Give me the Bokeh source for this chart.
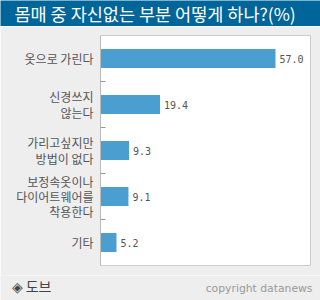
from bokeh.plotting import figure
from bokeh.layouts import column
from bokeh.models import FixedTicker, ColumnDataSource, LabelSet, Plot
from bokeh.core.properties import value
from bokeh.embed import file_html
from bokeh.resources import INLINE

categories = ["옷으로 가린다", "신경쓰지\n않는다", "가리고싶지만\n방법이 없다",
              "보정속옷이나\n다이어트웨어를\n착용한다", "기타"]
values = [57.0, 19.4, 9.3, 9.1, 5.2]
value_labels = ["57.0", "19.4", "9.3", "9.1", "5.2"]
title_text = ["몸매 중 자신없는 부분 어떻게 하나?(%)"]
source_text = ["◈ 도브"]
credit_text = ["copyright datanews"]

W = 320
BG = "#eeeeee"
HAS_FA = "frame_align" in Plot.properties()

# header
h = figure(width=W, height=26, output_backend="svg", toolbar_location=None,
           x_range=(0, W), y_range=(0, 26), x_axis_type=None, y_axis_type=None,
           min_border=0)
h.background_fill_color = "#006699"
h.border_fill_color = "#006699"
h.outline_line_color = None
h.grid.visible = False
h.text(x=[14], y=[13], text=title_text, text_font=value("Noto Sans CJK KR"),
       text_font_size="17.5px", text_color="white", text_baseline="middle")

# main chart
n = len(categories)
ys = [n - i - 0.5 for i in range(n)]
bounds = [float(k) for k in range(1, n)]
src = ColumnDataSource(dict(y=ys, v=values, lab=value_labels))

p = figure(width=W, height=249, output_backend="svg", toolbar_location=None,
           x_range=(0, 68.4), y_range=(0, n),
           min_border_left=100, min_border_right=10, min_border_top=9, min_border_bottom=10)
p.background_fill_color = "white"
p.border_fill_color = BG
p.outline_line_color = "#cccccc"
p.grid.visible = False
p.xaxis.visible = False

p.hbar(y="y", right="v", left=0, height=0.41, source=src, color="#4a9fd0", line_color=None)
p.add_layout(LabelSet(x="v", y="y", text="lab", source=src, x_offset=4,
                      text_baseline="middle", text_font=value("DejaVu Sans Mono"),
                      text_font_size="10px", text_color="#555555"))

ya = p.yaxis[0]
ya.ticker = FixedTicker(ticks=ys, minor_ticks=bounds)
ya.major_label_overrides = {y: c for y, c in zip(ys, categories)}
ya.major_tick_line_color = None
ya.major_tick_in = 0
ya.major_tick_out = 0
ya.minor_tick_in = 5
ya.minor_tick_out = 0
ya.minor_tick_line_color = "#999999"
ya.axis_line_color = "#bbbbbb"
ya.major_label_text_font = "Noto Sans CJK KR"
ya.major_label_text_font_size = "12px"
ya.major_label_text_color = "#555555"
ya.major_label_text_line_height = 0.9
ya.major_label_standoff = 7

# footer
f = figure(width=W, height=25, output_backend="svg", toolbar_location=None,
           x_range=(0, W), y_range=(25, 0), x_axis_type=None, y_axis_type=None,
           min_border=0)
f.background_fill_color = BG
f.border_fill_color = BG
f.outline_line_color = None
f.grid.visible = False
f.text(x=[11], y=[10], text=source_text, text_font=value("Noto Sans CJK KR"),
       text_font_size="14px", text_color="#444444", text_baseline="middle")
f.text(x=[312], y=[13], text=credit_text, text_font=value("DejaVu Sans"),
       text_font_size="10.8px", text_color="#999999", text_baseline="middle",
       text_align="right")

if HAS_FA:
    h.frame_align = False
    f.frame_align = False
    p.frame_align = False

layout = column(h, p, f, spacing=0)
open("out.html", "w").write(file_html(layout, INLINE))
